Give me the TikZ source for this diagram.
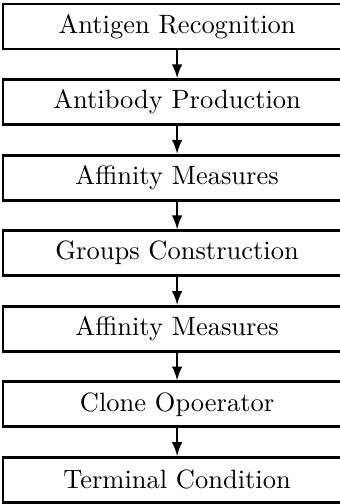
\documentclass[tikz,border=0pt]{standalone}
\usetikzlibrary{positioning,arrows}

\begin{document}
\begin{tikzpicture}[node distance=10.45pt,
    stage/.style={draw, line width=1.1pt, rectangle, minimum width=131.5pt, minimum height=17pt, inner sep=0pt},
    flow/.style={-latex, line width=0.8pt}]
    \useasboundingbox (-66.9pt,10pt) rectangle (61.2pt,-180.4pt);

    % Stages
    \node[stage] (antigen) {Antigen Recognition};
    \node[stage, below=of antigen] (antibody) {Antibody Production};
    \node[stage, below=of antibody] (affinity1) {Affinity Measures};
    \node[stage, below=of affinity1] (groups) {Groups Construction};
    \node[stage, below=of groups] (affinity2) {Affinity Measures};
    \node[stage, below=of affinity2] (clone) {Clone Opoerator};
    \node[stage, below=of clone] (terminal) {Terminal Condition};

    % Arrows
    \draw[flow] (antigen) -- (antibody);
    \draw[flow] (antibody) -- (affinity1);
    \draw[flow] (affinity1) -- (groups);
    \draw[flow] (groups) -- (affinity2);
    \draw[flow] (affinity2) -- (clone);
    \draw[flow] (clone) -- (terminal);
\end{tikzpicture}
\end{document}
